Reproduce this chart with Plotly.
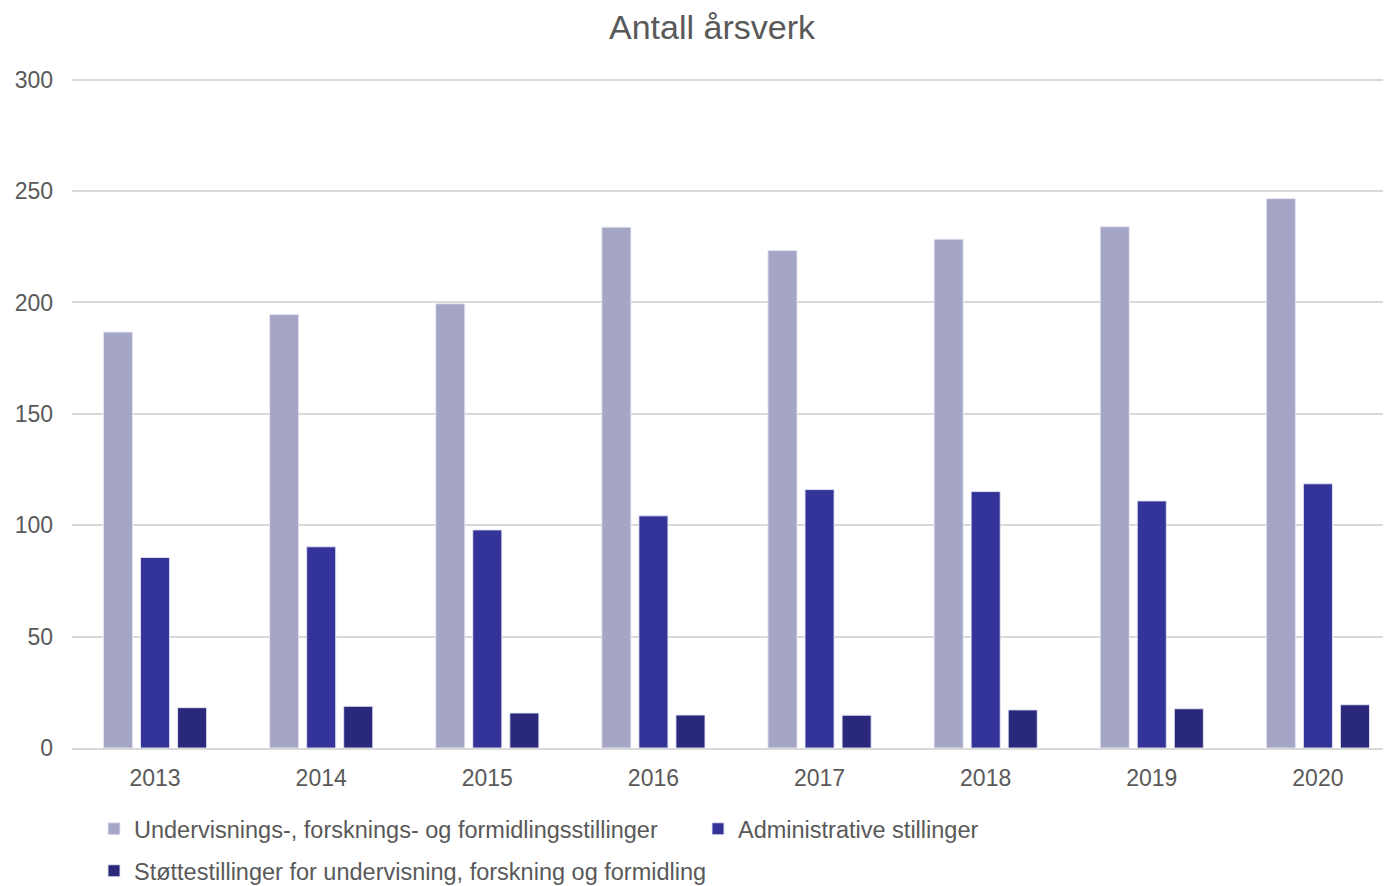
import plotly.graph_objects as go

years = ["2013", "2014", "2015", "2016", "2017", "2018", "2019", "2020"]
undervisning = [186.7, 194.6, 199.4, 233.8, 223.3, 228.4, 234.0, 246.6]
administrative = [85.5, 90.3, 97.9, 104.2, 116.0, 115.1, 110.9, 118.6]
stotte = [18.1, 18.7, 15.7, 14.8, 14.7, 17.1, 17.6, 19.4]

names = [
    "Undervisnings-, forsknings- og formidlingsstillinger",
    "Administrative stillinger",
    "Støttestillinger for undervisning, forskning og formidling",
]
colors = ["#A5A5C6", "#333399", "#29287A"]
series = [undervisning, administrative, stotte]
legends = ["legend", "legend", "legend2"]

FONT = "Liberation Sans, Arial, sans-serif"
GRAY = "#595959"
W, H = 1383, 878  # page body has an 8px margin

fig = go.Figure()
for name, vals, col, lg in zip(names, series, colors, legends):
    fig.add_trace(go.Bar(
        x=years, y=vals, name=name, legend=lg,
        marker=dict(color=col, line=dict(color="rgba(230,230,245,0.9)", width=1)),
    ))

legend_common = dict(orientation="h", xref="container", yref="container",
                     xanchor="left", yanchor="top",
                     font=dict(size=23.5, color=GRAY, family=FONT),
                     bgcolor="rgba(0,0,0,0)")

fig.update_layout(
    width=W, height=H,
    paper_bgcolor="white", plot_bgcolor="white",
    margin=dict(l=64, r=0, t=65.32, b=138, autoexpand=False),
    barmode="group", bargap=0.331, bargroupgap=0.216,
    font=dict(family=FONT, color=GRAY),
    title=dict(text="Antall årsverk", x=704 / W, xref="container", xanchor="center",
               y=1 - 19 / H, yref="container", yanchor="middle",
               font=dict(size=34, color=GRAY, family=FONT)),
    xaxis=dict(range=[-0.5, 7.44], showgrid=False, showline=True, linecolor="#D9D9D9",
               linewidth=1.5, ticks="", tickfont=dict(size=23, color=GRAY),
               ticklabelstandoff=9),
    yaxis=dict(range=[0, 303], tickvals=[0, 50, 100, 150, 200, 250, 300],
               showgrid=True, gridcolor="#D9D9D9", gridwidth=1.5, zeroline=False,
               ticks="", tickfont=dict(size=23, color=GRAY), ticklabelstandoff=18),
    legend=dict(legend_common, x=86 / W, y=1 - 799 / H,
                entrywidth=559, entrywidthmode="pixels"),
    legend2=dict(legend_common, x=86 / W, y=1 - 841 / H),
)

fig.write_html("out.html")
